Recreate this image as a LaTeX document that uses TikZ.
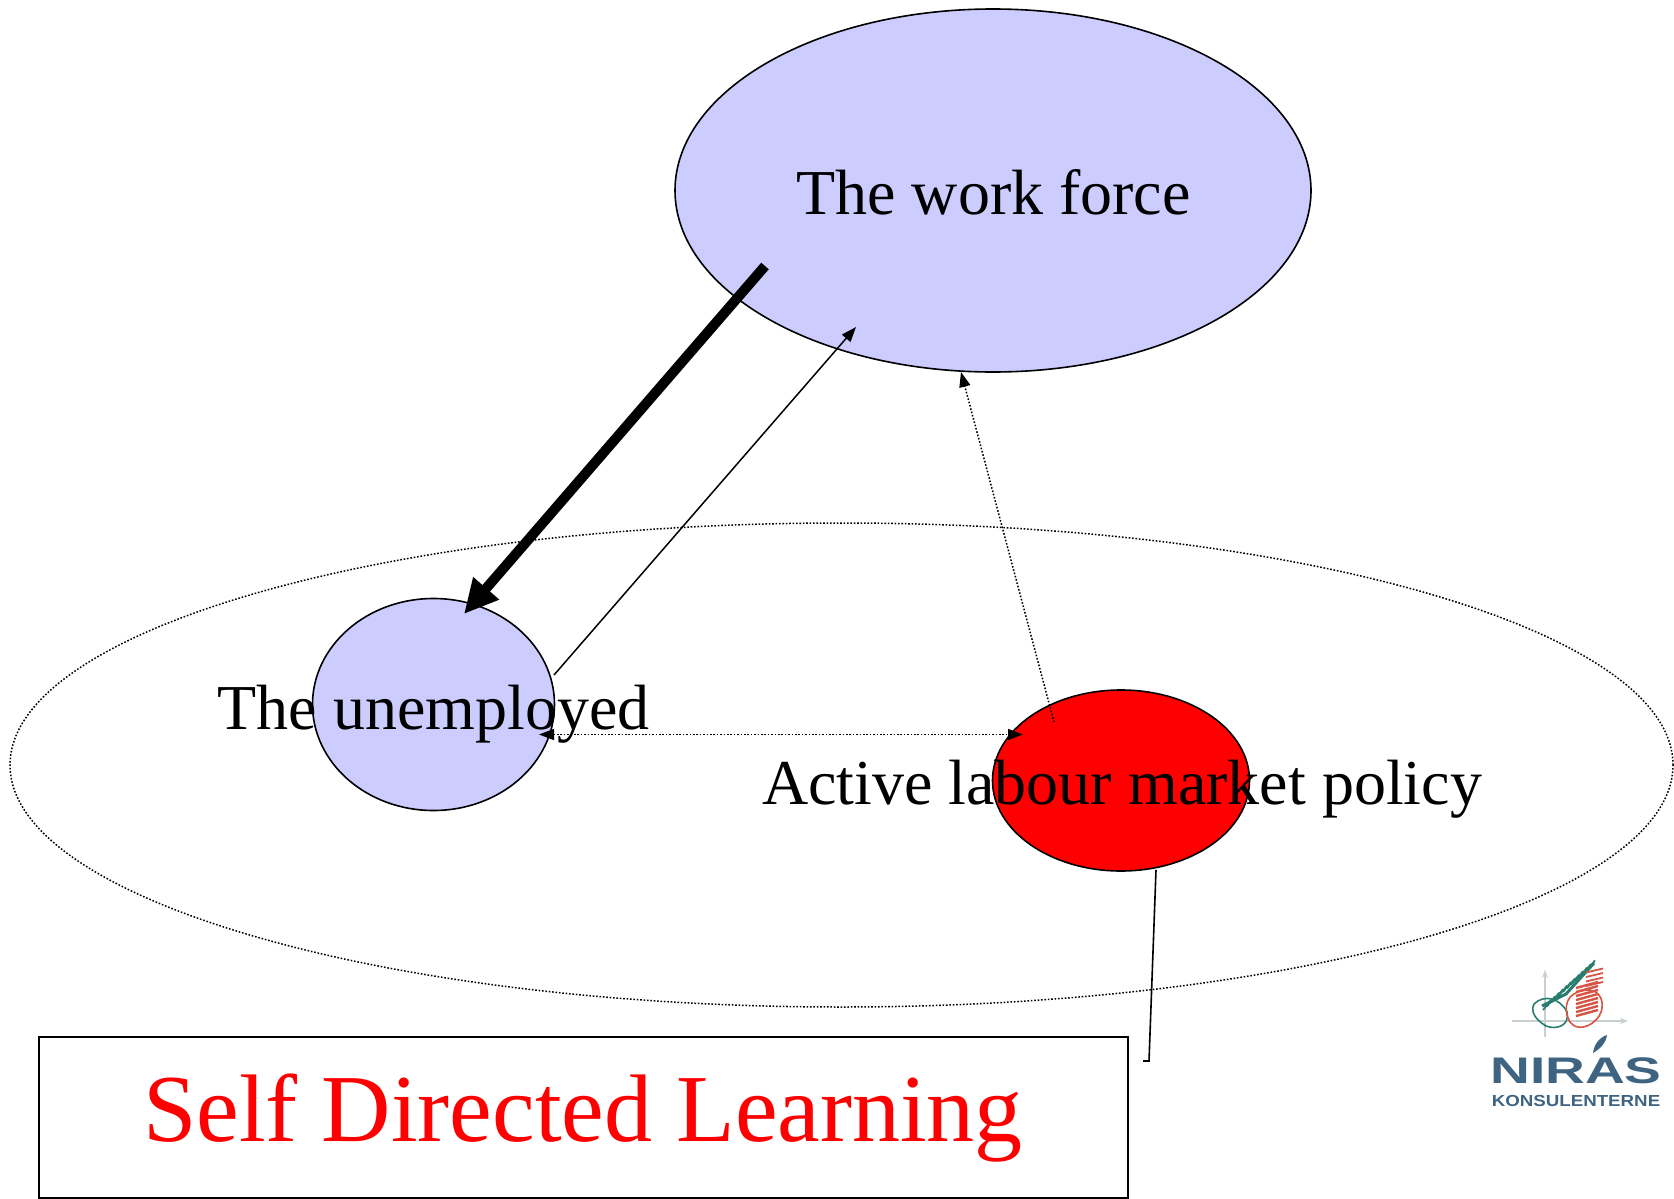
\documentclass[tikz,border=0pt]{standalone}
\usepackage{fontspec}
\setmainfont{Liberation Serif}
\newfontfamily\logofont{Liberation Sans}
\usetikzlibrary{shapes.geometric, arrows.meta}
\definecolor{paleblue}{RGB}{204,204,255}
\definecolor{logoblue}{RGB}{62,100,130}
\definecolor{logogreen}{RGB}{40,125,110}
\definecolor{logored}{RGB}{215,85,70}
\definecolor{logogrey}{RGB}{200,208,208}

\begin{document}
\begin{tikzpicture}[x=1pt, y=-1pt]
\tikzstyle{every node} = [inner sep = 0pt, outer sep = 0pt]
\tikzstyle{blob} = [ellipse, draw, line width = 1.6pt]
\tikzstyle{word} = [anchor = base, font = \fontsize{64}{64}\selectfont]
\tikzstyle{dots} = [line width = 1.5pt, dash pattern = on 1.6pt off 1.8pt]
\tikzstyle{thin tip} = [-{Triangle[length = 15pt, width = 11pt]}]
\useasboundingbox (0, 0) rectangle (1674, 1199);

\draw (841.5, 765) node[blob, dots, minimum width = 1663pt, minimum height = 484pt] (policyarea) {};
\draw (993, 190.5) node[blob, fill = paleblue, minimum width = 636pt, minimum height = 363pt] (force) {};
\draw (433.5, 704.5) node[blob, fill = paleblue, minimum width = 242pt, minimum height = 212pt] (unemp) {};
\draw (1121, 780.5) node[blob, fill = red, minimum width = 257pt, minimum height = 181pt] (active) {};
\draw (583.5, 1117.5) node[draw, line width = 1.6pt, minimum width = 1089pt, minimum height = 161pt] (box) {};

\coordinate (a1) at (765, 266);
\coordinate (a2) at (464, 614);
\coordinate (b1) at (554, 675);
\coordinate (b2) at (856, 327);
\coordinate (c1) at (1054, 722);
\coordinate (c2) at (961, 372);
\coordinate (d1) at (539, 734.5);
\coordinate (d2) at (1023, 734.5);
\coordinate (e1) at (1156, 870);
\coordinate (e2) at (1149, 1061);
\coordinate (e3) at (1143, 1061);

\draw (993.5, 214) node[word] (forcetext) {The work force};
\draw (433.5, 729) node[word] (unemptext) {The unemployed};
\draw (1122, 804) node[word] (activetext) {Active labour market policy};
\draw (583, 1141) node[word, text = red, font = \fontsize{96}{96}\selectfont] (boxtext) {Self Directed Learning};

\draw[line width = 10pt, -{Triangle[length = 34pt, width = 32pt]}] (a1) -- (a2);
\draw[line width = 1.5pt, thin tip] (b1) -- (b2);
\draw[dots, thin tip] (c1) -- (c2);
\draw[dots, {Triangle[length = 15pt, width = 11pt]}-{Triangle[length = 15pt, width = 11pt]}] (d1) -- (d2);
\draw[line width = 1.6pt] (e1) -- (e2) -- (e3);

% logo
\draw[logogrey, line width = 1.5pt, -{Stealth[length = 8pt]}] (1512, 1021) -- (1628, 1021);
\draw[logogrey, line width = 1.5pt, -{Stealth[length = 8pt]}] (1545, 1037) -- (1545, 970);
\draw[logogreen, line width = 1.6pt] (1534, 1004) .. controls (1544, 994) and (1560, 998) .. (1567, 1012) .. controls (1570, 1026) and (1556, 1030) .. (1546, 1026) .. controls (1536, 1020) and (1530, 1012) .. (1534, 1004);
\foreach \t in {0, 1, ..., 11}
  \draw[logogreen, line width = 1.8pt] ({1543 + 4*\t}, {1010 - 3.6*\t}) -- ({1551 + 4*\t}, {1000 - 3.6*\t});
\draw[logogreen, line width = 3pt] (1542, 1006) -- (1566, 994) -- (1594, 963);
\draw[logored, line width = 1.6pt] (1568, 1018) .. controls (1562, 1000) and (1572, 990) .. (1590, 990) .. controls (1604, 992) and (1606, 1010) .. (1596, 1020) .. controls (1586, 1030) and (1572, 1030) .. (1568, 1018);
\foreach \t in {0, 1, ..., 7}
  \draw[logored, line width = 2.4pt] (1576, {1016 - 4*\t}) -- (1598, {1010 - 4*\t});
\foreach \t in {0, 1, 2, 3}
  \draw[logored, line width = 1.8pt] (1586, {986 - 4.5*\t}) -- (1603, {982 - 4.5*\t});
\fill[logoblue] (1593, 1053) .. controls (1594, 1044) and (1600, 1037) .. (1607, 1035) .. controls (1606, 1043) and (1600, 1049) .. (1593, 1053);
\draw (1576, 1070.5) node[text = logoblue, font = \logofont\bfseries\fontsize{37}{37}\selectfont, xscale = 1.49] (niras) {NIRAS};
\draw (1576, 1101) node[text = logoblue, font = \logofont\bfseries\fontsize{16}{16}\selectfont, xscale = 1.17] (konsul) {KONSULENTERNE};
\end{tikzpicture}
\end{document}
